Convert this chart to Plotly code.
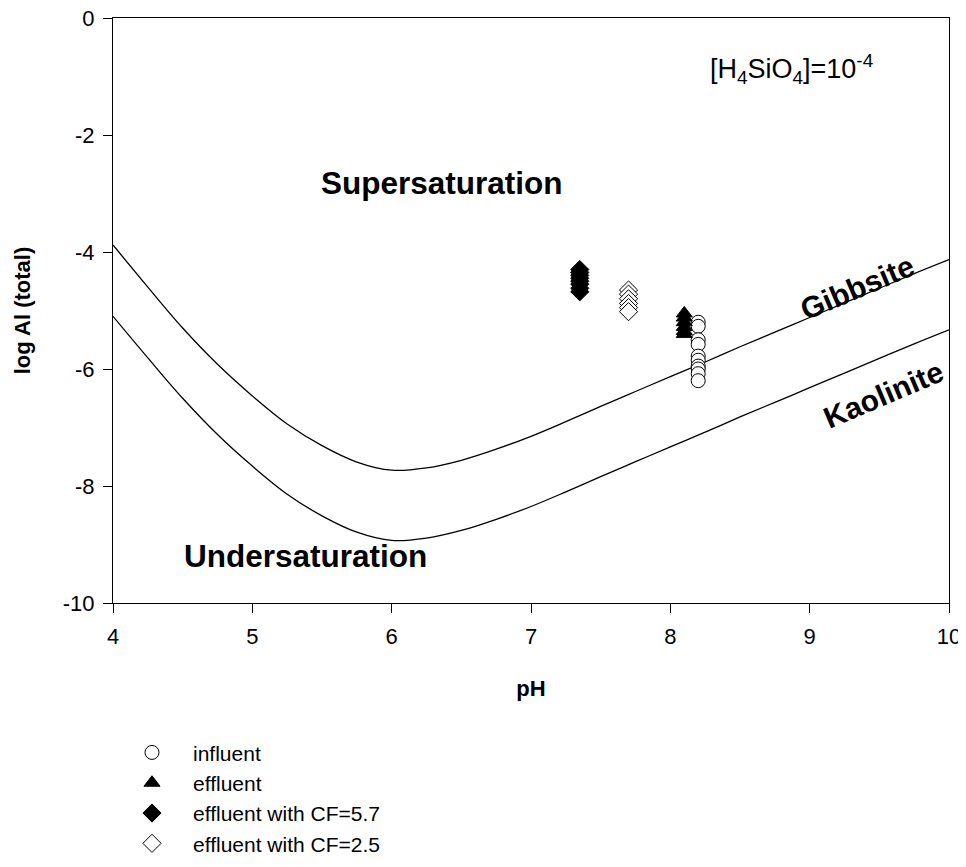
import plotly.graph_objects as go

# --- data ---
ph_curve = [4.0, 4.25, 4.5, 4.75, 5.0, 5.25, 5.5, 5.75, 6.0, 6.25, 6.5, 6.75, 7.0,
            7.25, 7.5, 7.75, 8.0, 8.25, 8.5, 8.75, 9.0, 9.25, 9.5, 9.75, 10.0]
gibbsite = [-3.88, -4.60, -5.30, -5.92, -6.46, -6.94, -7.31, -7.59, -7.73, -7.69, -7.56, -7.37, -7.15,
            -6.90, -6.64, -6.385, -6.13, -5.88, -5.62, -5.37, -5.12, -4.87, -4.62, -4.37, -4.13]
kaolinite = [-5.10, -5.81, -6.50, -7.12, -7.66, -8.14, -8.51, -8.79, -8.93, -8.89, -8.76, -8.57, -8.35,
             -8.10, -7.84, -7.585, -7.33, -7.08, -6.82, -6.57, -6.32, -6.07, -5.82, -5.57, -5.33]

influent_ph = [8.2] * 10
influent_al = [-5.20, -5.27, -5.50, -5.58, -5.78, -5.85, -5.95, -6.00, -6.08, -6.20]

effluent_ph = [8.1] * 6
effluent_al = [-5.05, -5.12, -5.20, -5.28, -5.35, -5.40]

cf57_ph = [7.35] * 8
cf57_al = [-4.30, -4.35, -4.40, -4.45, -4.50, -4.55, -4.62, -4.68]

cf25_ph = [7.7] * 6
cf25_al = [-4.65, -4.72, -4.80, -4.88, -4.95, -5.02]

x_ticks = [4, 5, 6, 7, 8, 9, 10]
x_labels = ["4", "5", "6", "7", "8", "9", "10"]
y_ticks = [0, -2, -4, -6, -8, -10]
y_labels = ["0", "-2", "-4", "-6", "-8", "-10"]

FONT = "Liberation Sans, Arial, sans-serif"

fig = go.Figure()
fig.add_trace(go.Scatter(x=ph_curve, y=gibbsite, mode="lines", line=dict(color="black", width=1.3, shape="spline"),
                         showlegend=False, hoverinfo="skip"))
fig.add_trace(go.Scatter(x=ph_curve, y=kaolinite, mode="lines", line=dict(color="black", width=1.3, shape="spline"),
                         showlegend=False, hoverinfo="skip"))

fig.add_trace(go.Scatter(x=influent_ph, y=influent_al, mode="markers", name="influent",
                         marker=dict(symbol="circle", size=14, color="white", line=dict(color="black", width=1))))
fig.add_trace(go.Scatter(x=effluent_ph, y=effluent_al, mode="markers", name="effluent",
                         marker=dict(symbol="triangle-up", size=14, color="black", line=dict(color="black", width=1))))
fig.add_trace(go.Scatter(x=cf57_ph, y=cf57_al, mode="markers", name="effluent with CF=5.7",
                         marker=dict(symbol="diamond", size=14, color="black", line=dict(color="black", width=1))))
fig.add_trace(go.Scatter(x=cf25_ph, y=cf25_al, mode="markers", name="effluent with CF=2.5",
                         marker=dict(symbol="diamond", size=14, color="white", line=dict(color="black", width=1))))

big_b = dict(family=FONT, size=31.5, color="black")
lbl_b = dict(family=FONT, size=30, color="black")
fig.add_annotation(x=6.36, y=-2.82, text="<b>Supersaturation</b>", showarrow=False, font=big_b)
fig.add_annotation(x=5.38, y=-9.2, text="<b>Undersaturation</b>", showarrow=False, font=big_b)
fig.add_annotation(x=9.34, y=-4.6, text="<b>Gibbsite</b>", showarrow=False, textangle=-23, font=lbl_b)
fig.add_annotation(x=9.53, y=-6.43, text="<b>Kaolinite</b>", showarrow=False, textangle=-23, font=lbl_b)
fig.add_annotation(x=8.87, y=-0.88, text="[H<sub>4</sub>SiO<sub>4</sub>]=10<sup>-4</sup>", showarrow=False,
                   font=dict(family=FONT, size=27, color="black"))

fig.update_layout(
    width=958, height=851,
    margin=dict(l=105, r=17, t=10, b=256, autoexpand=False),
    paper_bgcolor="white", plot_bgcolor="white",
    font=dict(family=FONT, size=22, color="black"),
    legend=dict(x=-0.0024, y=-0.221, xanchor="left", yanchor="top", bgcolor="rgba(0,0,0,0)",
                itemwidth=72, font=dict(family=FONT, size=21, color="black")),
    xaxis=dict(range=[4, 10], tickvals=x_ticks, ticktext=x_labels, ticks="outside", ticklen=9, tickwidth=1,
               tickcolor="black", ticklabelstandoff=5, ticklabeloverflow="allow", automargin=False,
               showline=True, linecolor="black", linewidth=1, mirror=True, showgrid=False, zeroline=False,
               title=dict(text="<b>pH</b>", font=dict(family=FONT, size=22), standoff=32),
               tickfont=dict(family=FONT, size=22)),
    yaxis=dict(range=[-10, 0], tickvals=y_ticks, ticktext=y_labels, ticks="outside", ticklen=9, tickwidth=1,
               tickcolor="black", ticklabelstandoff=4, ticklabeloverflow="allow", automargin=False,
               showline=True, linecolor="black", linewidth=1, mirror=True, showgrid=False, zeroline=False,
               title=dict(text="<b>log Al (total)</b>", font=dict(family=FONT, size=22), standoff=26),
               tickfont=dict(family=FONT, size=22)),
)

fig.write_html("out.html")
